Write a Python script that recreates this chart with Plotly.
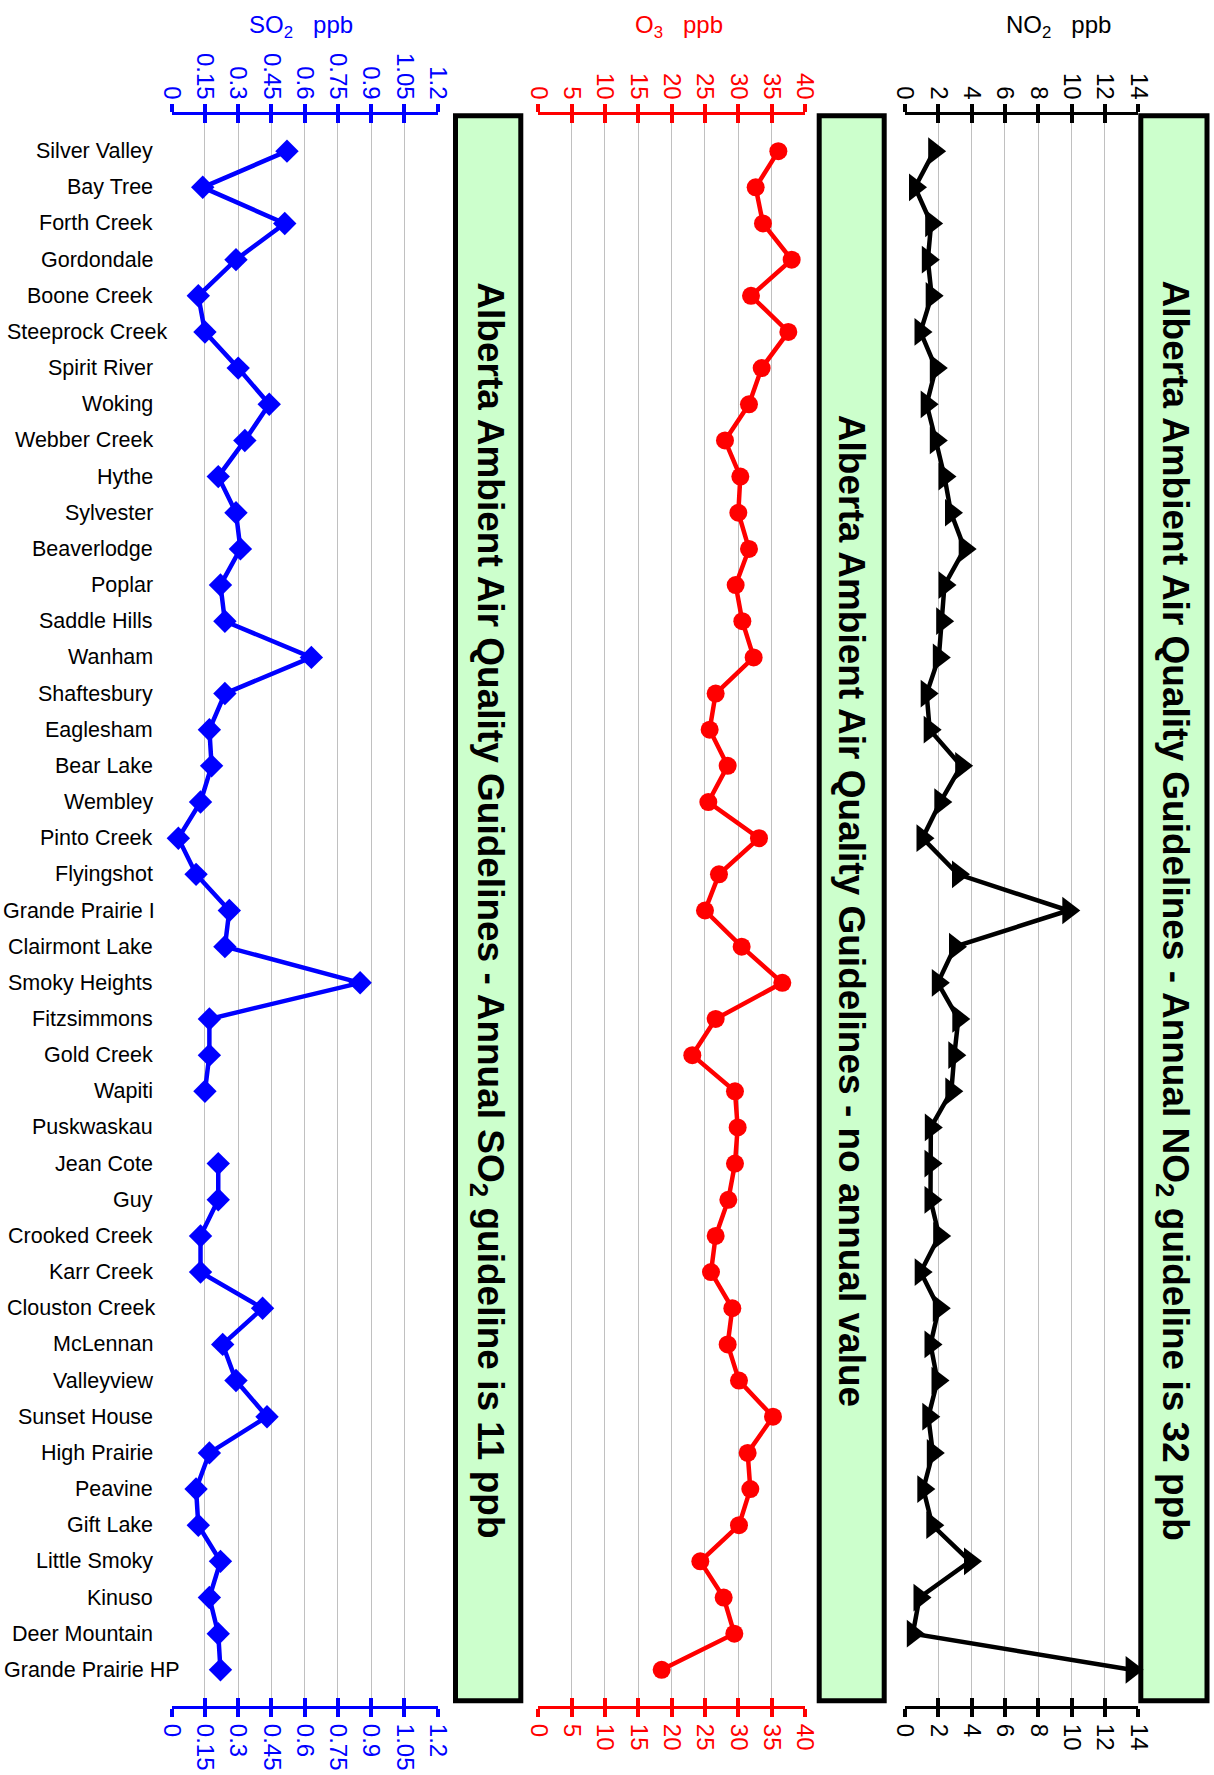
import plotly.graph_objects as go

stations = ["Silver Valley", "Bay Tree", "Forth Creek", "Gordondale", "Boone Creek",
            "Steeprock Creek", "Spirit River", "Woking", "Webber Creek", "Hythe",
            "Sylvester", "Beaverlodge", "Poplar", "Saddle Hills", "Wanham",
            "Shaftesbury", "Eaglesham", "Bear Lake", "Wembley", "Pinto Creek",
            "Flyingshot", "Grande Prairie I", "Clairmont Lake", "Smoky Heights", "Fitzsimmons",
            "Gold Creek", "Wapiti", "Puskwaskau", "Jean Cote", "Guy",
            "Crooked Creek", "Karr Creek", "Clouston Creek", "McLennan", "Valleyview",
            "Sunset House", "High Prairie", "Peavine", "Gift Lake", "Little Smoky",
            "Kinuso", "Deer Mountain", "Grande Prairie HP"]

so2 = [0.52, 0.14, 0.51, 0.29, 0.12, 0.15, 0.30, 0.44, 0.33, 0.21,
       0.29, 0.31, 0.22, 0.24, 0.63, 0.24, 0.17, 0.18, 0.13, 0.03,
       0.11, 0.26, 0.24, 0.85, 0.17, 0.17, 0.15, None, 0.21, 0.21,
       0.13, 0.13, 0.41, 0.23, 0.29, 0.43, 0.17, 0.11, 0.12, 0.22,
       0.17, 0.21, 0.22]

o3 = [36.0, 32.6, 33.7, 38.0, 31.9, 37.5, 33.5, 31.6, 28.0, 30.3,
      30.0, 31.6, 29.6, 30.6, 32.3, 26.6, 25.7, 28.4, 25.5, 33.1,
      27.1, 25.0, 30.5, 36.6, 26.6, 23.1, 29.5, 29.9, 29.5, 28.5,
      26.6, 25.9, 29.1, 28.4, 30.1, 35.2, 31.4, 31.8, 30.1, 24.3,
      27.8, 29.4, 18.5]

no2 = [1.75, 0.6, 1.57, 1.37, 1.6, 0.93, 1.85, 1.3, 1.85, 2.37,
       2.76, 3.58, 2.37, 2.23, 2.03, 1.3, 1.48, 3.37, 2.12, 1.05,
       3.18, 9.8, 3.0, 1.97, 3.2, 2.96, 2.78, 1.55, 1.53, 1.53,
       2.05, 0.94, 2.03, 1.53, 1.95, 1.4, 1.67, 1.1, 1.64, 3.9,
       0.87, 0.47, 13.6]

box_texts = ["Alberta Ambient Air Quality Guidelines - Annual SO<sub>2</sub> guideline is 11 ppb",
             "Alberta Ambient Air Quality Guidelines - no annual value",
             "Alberta Ambient Air Quality Guidelines - Annual NO<sub>2</sub> guideline is 32 ppb"]

FONT = "Arial, 'Liberation Sans', sans-serif"
W, H = 1214, 1775
TOP, BOTTOM = 115, 1706


def px(x):
    return x / W


def py(y):
    return (BOTTOM - y) / (BOTTOM - TOP)


def label_width(s, size):
    # rough Arial widths, good enough to keep long labels inside the page
    w = 0
    for ch in s:
        if ch in "ijl":
            w += 0.222
        elif ch in "ftI ":
            w += 0.278
        elif ch == "r":
            w += 0.333
        elif ch in "mwCDGHNOQMW":
            w += 0.78
        elif ch.isupper():
            w += 0.667
        else:
            w += 0.54
    return w * size


def top_axis(domain, rng, dtick, color):
    return dict(domain=domain, range=rng, dtick=dtick, tick0=0, side="top", anchor="y",
                showline=True, linecolor=color, linewidth=3, mirror="ticks",
                ticks="outside", ticklen=8, tickwidth=3.5, tickcolor=color,
                tickangle=90, tickfont=dict(size=24, color=color, family=FONT),
                ticklabelstandoff=-4, automargin=False,
                showgrid=True, gridcolor="#C0C0C0", gridwidth=1, zeroline=False)


def bottom_axis(base, rng, dtick, color):
    return dict(overlaying=base, range=rng, dtick=dtick, tick0=0, side="bottom", anchor="y",
                showline=True, linecolor=color, linewidth=3, mirror="ticks",
                ticks="inside", ticklen=8, tickwidth=3.5, tickcolor=color,
                tickangle=90, tickfont=dict(size=24, color=color, family=FONT),
                ticklabelstandoff=10, automargin=False,
                showgrid=False, zeroline=False)


fig = go.Figure()

series = [(so2, "x", "x4", "#0000FF", "diamond", 18),
          (o3, "x2", "x5", "#FF0000", "circle", 18),
          (no2, "x3", "x6", "#000000", "triangle-right", 24)]

for vals, xa, xb, color, sym, size in series:
    fig.add_trace(go.Scatter(x=vals, y=stations, xaxis=xa, yaxis="y",
                             mode="lines+markers", cliponaxis=False,
                             line=dict(color=color, width=4.5),
                             marker=dict(symbol=sym, size=size, color=color),
                             showlegend=False))
    # invisible copy so the bottom axis gets drawn
    fig.add_trace(go.Scatter(x=vals, y=stations, xaxis=xb, yaxis="y", mode="none",
                             hoverinfo="skip", showlegend=False))

fig.update_layout(
    width=W, height=H,
    margin=dict(l=0, r=0, t=TOP, b=H - BOTTOM, autoexpand=False),
    paper_bgcolor="white", plot_bgcolor="white",
    font=dict(family=FONT, color="black"),
    xaxis=top_axis([px(171.7), px(437.7)], [0, 1.2], 0.15, "#0000FF"),
    xaxis2=top_axis([px(538.3), px(805)], [0, 40], 5, "#FF0000"),
    xaxis3=top_axis([px(905), px(1138.3)], [0, 14], 2, "#000000"),
    xaxis4=bottom_axis("x", [0, 1.2], 0.15, "#0000FF"),
    xaxis5=bottom_axis("x2", [0, 40], 5, "#FF0000"),
    xaxis6=bottom_axis("x3", [0, 14], 2, "#000000"),
    yaxis=dict(anchor="x", type="category", categoryorder="array", categoryarray=stations,
               range=[43, -1], showticklabels=False, showgrid=False, zeroline=False,
               showline=False, ticks="", automargin=False),
)

# station labels (right aligned, long ones pushed right like the original)
for name in stations:
    right = max(155, 7 + label_width(name, 21.5))
    fig.add_annotation(x=px(right), xref="paper", y=name, yref="y", text=name,
                       xanchor="right", yanchor="middle", showarrow=False,
                       font=dict(size=21.5, color="black", family=FONT))

# axis titles
titles = [("SO<sub>2</sub>\u00a0\u00a0\u00a0ppb", 301, "#0000FF"),
          ("O<sub>3</sub>\u00a0\u00a0\u00a0ppb", 679, "#FF0000"),
          ("NO<sub>2</sub>\u00a0\u00a0\u00a0ppb", 1058, "#000000")]
for text, cx, color in titles:
    fig.add_annotation(x=px(cx), xref="paper", y=py(27), yref="paper", text=text,
                       xanchor="center", yanchor="middle", showarrow=False,
                       font=dict(size=24, color=color, family=FONT))

# guideline boxes
boxes = [(455.5, 520.8), (819.2, 884.2), (1140.8, 1207.0)]
for (x0, x1), text in zip(boxes, box_texts):
    fig.add_shape(type="rect", xref="paper", yref="paper",
                  x0=px(x0), x1=px(x1), y0=py(1700.8), y1=py(115.8),
                  fillcolor="#CCFFCC", line=dict(color="black", width=5), layer="below")
    fig.add_annotation(x=px((x0 + x1) / 2), xref="paper", y=0.5, yref="paper",
                       text="<b>" + text + "</b>", textangle=90, showarrow=False,
                       xanchor="center", yanchor="middle",
                       font=dict(size=37, color="black", family=FONT))

# drop the browser's default page margin so the figure sits at the corner
fig.write_html("out.html", config={"displayModeBar": False},
               post_script="document.body.style.margin='0';")
